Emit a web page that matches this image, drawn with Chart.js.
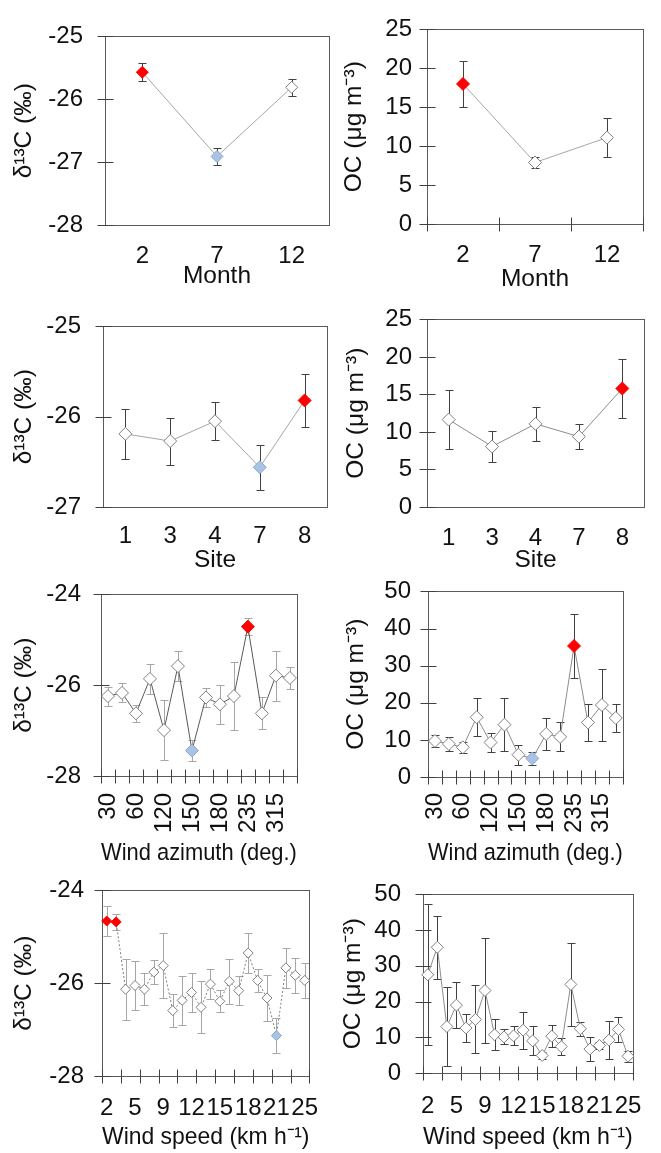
<!DOCTYPE html>
<html>
<head>
<meta charset="utf-8">
<script src="https://cdn.jsdelivr.net/npm/chart.js@4.4.1/dist/chart.umd.min.js"></script>
<style>
  html, body { margin: 0; padding: 0; background: #fff; }
  body { width: 661px; height: 1153px; position: relative; overflow: hidden; }
  canvas { position: absolute; }
</style>
</head>
<body>
<canvas id="p1"></canvas>
<canvas id="p2"></canvas>
<canvas id="p3"></canvas>
<canvas id="p4"></canvas>
<canvas id="p5"></canvas>
<canvas id="p6"></canvas>
<canvas id="p7"></canvas>
<canvas id="p8"></canvas>
<script>
// --- data ---
const monthLabels = ['2', '7', '12'];
const monthD13C = [-25.57, -26.91, -25.81];
const monthD13CErr = [0.14, 0.13, 0.14];
const monthOC = [18.0, 7.9, 11.1];
const monthOCErr = [3.0, 0.75, 2.5];

const siteLabels = ['1', '3', '4', '7', '8'];
const siteD13C = [-26.19, -26.27, -26.05, -26.56, -25.82];
const siteD13CErr = [0.28, 0.26, 0.21, 0.25, 0.29];
const siteOC = [11.65, 8.06, 11.08, 9.38, 15.79];
const siteOCErr = [3.9, 2.1, 2.3, 1.7, 3.9];

const azimuthLabels = ['30', '', '60', '', '120', '', '150', '', '180', '', '235', '', '315', ''];
const azimuthD13C = [-26.24, -26.17, -26.62, -25.86, -26.99, -25.58, -27.44, -26.27, -26.42, -26.24, -24.71, -26.62, -25.79, -25.84];
const azimuthD13CErr = [0.21, 0.21, 0.19, 0.33, 0.66, 0.33, 0.24, 0.21, 0.43, 0.75, 0.19, 0.35, 0.55, 0.25];
const azimuthOC = [9.7, 8.9, 8.0, 16.1, 9.3, 14.1, 6.0, 5.0, 11.6, 10.8, 35.3, 14.7, 19.4, 15.9];
const azimuthOCErr = [1.7, 1.8, 1.5, 5.1, 2.5, 7.2, 2.7, 1.7, 4.2, 3.9, 8.7, 5.1, 9.6, 3.7];

const speedLabels = ['2', '', '', '5', '', '', '9', '', '', '12', '', '', '15', '', '', '18', '', '', '21', '', '', '25'];
const speedD13C = [-24.66, -24.68, -26.13, -26.05, -26.13, -25.76, -25.62, -26.59, -26.37, -26.20, -26.52,
                   -26.02, -26.39, -25.96, -26.16, -25.35, -25.94, -26.32, -27.13, -25.67, -25.83, -25.94];
const speedD13CErr = [0.32, 0.18, 0.66, 0.52, 0.35, 0.26, 0.70, 0.35, 0.53, 0.42, 0.56,
                      0.33, 0.24, 0.48, 0.32, 0.43, 0.24, 0.49, 0.37, 0.43, 0.38, 0.37];
const speedOC = [27.5, 35.2, 13.0, 19.0, 12.6, 15.0, 23.1, 10.7, 10.1, 10.4, 12.0,
                 9.0, 4.9, 10.3, 7.4, 24.8, 12.4, 6.7, 7.7, 9.2, 12.2, 4.7];
const speedOCErr = [19.7, 8.8, 11.0, 6.5, 3.9, 9.5, 14.7, 4.3, 2.1, 2.7, 5.2,
                    4.1, 1.0, 3.0, 2.4, 11.6, 2.0, 3.4, 1.0, 5.3, 3.6, 1.5];

const D13C_TITLE = 'δ¹³C (‰)';
const OC_TITLE = 'OC (μg m⁻³)';

Chart.defaults.font.family = '"Liberation Sans", Arial, sans-serif';
Chart.defaults.color = '#111';

const TICK_FONT = 24;
const TITLE_FONT = 24.5;

// error bars drawn under the markers, using the chart's own scales
const errorBars = {
  id: 'errorBars',
  beforeDatasetsDraw(chart, args, opts) {
    if (!opts.err) return;
    const { ctx, scales: { x, y } } = chart;
    const vals = chart.data.datasets[0].data;
    ctx.save();
    ctx.strokeStyle = opts.color;
    ctx.lineWidth = 1;
    vals.forEach((v, i) => {
      const px = Math.round(x.getPixelForValue(i)) + 0.5;
      const top = Math.round(y.getPixelForValue(v + opts.err[i])) + 0.5;
      const bot = Math.round(y.getPixelForValue(v - opts.err[i])) + 0.5;
      ctx.beginPath();
      ctx.moveTo(px, top); ctx.lineTo(px, bot);
      ctx.moveTo(px - opts.cap, top); ctx.lineTo(px + opts.cap, top);
      ctx.moveTo(px - opts.cap, bot); ctx.lineTo(px + opts.cap, bot);
      ctx.stroke();
    });
    ctx.restore();
  }
};

// plot frame plus crossing tick marks like the original
const boxTicks = {
  id: 'boxTicks',
  beforeDatasetsDraw(chart, args, opts) {
    const { ctx, chartArea: a, scales: { x, y } } = chart;
    const L = Math.round(a.left) + 0.5, R = Math.round(a.right) + 0.5;
    const T = Math.round(a.top) + 0.5, B = Math.round(a.bottom) + 0.5;
    ctx.save();
    ctx.lineWidth = 1;
    ctx.strokeStyle = '#5a5a5a';
    ctx.strokeRect(L, T, R - L, B - T);
    ctx.strokeStyle = '#404040';
    ctx.beginPath();
    y.ticks.forEach(t => {
      const py = Math.round(y.getPixelForValue(t.value)) + 0.5;
      ctx.moveTo(L - 8, py); ctx.lineTo(L + 8, py);
    });
    if (opts.xEvery) {
      const n = x.ticks.length;
      for (let i = 0; i <= n; i += opts.xEvery) {
        const px = Math.round(x.getPixelForValue(i - 0.5)) + 0.5;
        ctx.moveTo(px, B - 7); ctx.lineTo(px, B + 7);
      }
    }
    ctx.stroke();
    ctx.restore();
  }
};

const RED = '#ff0000';
const BLUE = '#a9c3e4';

function makeChart(p) {
  const [cx, cy, cw, ch] = p.box;
  const [al, at, ar, ab] = p.area;
  const cv = document.getElementById(p.id);
  cv.width = cw; cv.height = ch;
  Object.assign(cv.style, { left: cx + 'px', top: cy + 'px', width: cw + 'px', height: ch + 'px' });

  const fills = p.values.map((v, i) => p.red.includes(i) ? RED : p.blue.includes(i) ? BLUE : '#ffffff');
  const edges = p.values.map((v, i) => p.red.includes(i) ? RED : p.blue.includes(i) ? '#8aa6cc' : '#7f7f7f');

  new Chart(cv, {
    type: 'line',
    data: {
      labels: p.labels,
      datasets: [{
        data: p.values,
        borderColor: p.lineColor,
        borderWidth: 1,
        borderDash: p.dash || [],
        tension: 0,
        fill: false,
        pointStyle: 'rectRot',
        pointRadius: p.r,
        pointHoverRadius: p.r,
        pointBackgroundColor: fills,
        pointBorderColor: edges,
        pointBorderWidth: 1
      }]
    },
    options: {
      responsive: false,
      animation: false,
      events: [],
      layout: { padding: { left: 0, top: at - cy, right: cx + cw - ar, bottom: 0 } },
      plugins: {
        legend: { display: false },
        tooltip: { enabled: false },
        errorBars: { err: p.errors, color: p.errColor, cap: 4 },
        boxTicks: { xEvery: p.xEvery || 0 }
      },
      scales: {
        x: {
          type: 'category',
          offset: true,
          grid: { display: false, drawTicks: false },
          border: { display: false },
          ticks: {
            autoSkip: false,
            maxRotation: p.rot || 0,
            minRotation: p.rot || 0,
            padding: p.xPad,
            font: { size: TICK_FONT }
          },
          title: { display: true, text: p.xTitle, font: { size: TITLE_FONT }, padding: { top: 0, bottom: 0 } },
          afterFit: s => { s.height = cy + ch - ab; }
        },
        y: {
          min: p.y[0],
          max: p.y[1],
          grid: { display: false, drawTicks: false },
          border: { display: false },
          ticks: { stepSize: p.y[2], padding: p.yPad, font: { size: TICK_FONT } },
          title: { display: true, text: p.yTitle, font: { size: TITLE_FONT }, padding: { top: p.yTitlePad, bottom: 0 } },
          afterFit: s => { s.width = al - cx; }
        }
      }
    },
    plugins: [errorBars, boxTicks]
  });
}

const panels = [
  { id: 'p1', box: [0, 0, 336, 291], area: [105, 24, 333, 225],
    labels: monthLabels, values: monthD13C, errors: monthD13CErr, y: [-28, -25, 1],
    xTitle: 'Month', yTitle: D13C_TITLE, red: [0], blue: [1], r: 6,
    lineColor: '#a6a6a6', errColor: '#404040', xPad: 17.3, yPad: 22, yTitlePad: 10 },
  { id: 'p2', box: [336, 0, 325, 294], area: [427, 24, 643, 224],
    labels: monthLabels, values: monthOC, errors: monthOCErr, y: [0, 25, 5],
    xTitle: 'Month', yTitle: OC_TITLE, red: [0], blue: [], r: 6.5, xEvery: 1,
    lineColor: '#a6a6a6', errColor: '#404040', xPad: 16.8, yPad: 15, yTitlePad: 4 },
  { id: 'p3', box: [0, 290, 336, 285], area: [103, 305, 327, 507],
    labels: siteLabels, values: siteD13C, errors: siteD13CErr, y: [-27, -25, 1],
    xTitle: 'Site', yTitle: D13C_TITLE, red: [4], blue: [3], r: 6.5,
    lineColor: '#a6a6a6', errColor: '#404040', xPad: 15.3, yPad: 22, yTitlePad: 10 },
  { id: 'p4', box: [336, 290, 325, 285], area: [427, 305, 644, 507],
    labels: siteLabels, values: siteOC, errors: siteOCErr, y: [0, 25, 5],
    xTitle: 'Site', yTitle: OC_TITLE, red: [4], blue: [], r: 6.5,
    lineColor: '#8c8c8c', errColor: '#404040', xPad: 16.8, yPad: 15, yTitlePad: 6 },
  { id: 'p5', box: [0, 560, 336, 308], area: [101, 575, 327, 776],
    labels: azimuthLabels, values: azimuthD13C, errors: azimuthD13CErr, y: [-28, -24, 2],
    xTitle: 'Wind azimuth (deg.)', yTitle: D13C_TITLE, red: [10], blue: [6], r: 6.5, xEvery: 1, rot: 90,
    lineColor: '#595959', errColor: '#a6a6a6', xPad: 17, yPad: 20, yTitlePad: 10 },
  { id: 'p6', box: [336, 560, 325, 308], area: [428, 575, 649, 777],
    labels: azimuthLabels, values: azimuthOC, errors: azimuthOCErr, y: [0, 50, 10],
    xTitle: 'Wind azimuth (deg.)', yTitle: OC_TITLE, red: [10], blue: [7], r: 6.5, xEvery: 1, rot: 90,
    lineColor: '#8c8c8c', errColor: '#404040', xPad: 16, yPad: 17, yTitlePad: 6 },
  { id: 'p7', box: [0, 858, 336, 294], area: [102, 878, 330, 1076],
    labels: speedLabels, values: speedD13C, errors: speedD13CErr, y: [-28, -24, 2],
    xTitle: 'Wind speed (km h⁻¹)', yTitle: D13C_TITLE, red: [0, 1], blue: [18], r: 5, xEvery: 2,
    lineColor: '#7f7f7f', dash: [2, 2], errColor: '#a6a6a6', xPad: 17.8, yPad: 18, yTitlePad: 10 },
  { id: 'p8', box: [336, 858, 325, 294], area: [423, 878, 647, 1073],
    labels: speedLabels, values: speedOC, errors: speedOCErr, y: [0, 50, 10],
    xTitle: 'Wind speed (km h⁻¹)', yTitle: OC_TITLE, red: [], blue: [], r: 6, xEvery: 2,
    lineColor: '#8c8c8c', errColor: '#404040', xPad: 19.3, yPad: 22, yTitlePad: 2.5 }
];

panels.forEach(makeChart);
</script>
</body>
</html>
